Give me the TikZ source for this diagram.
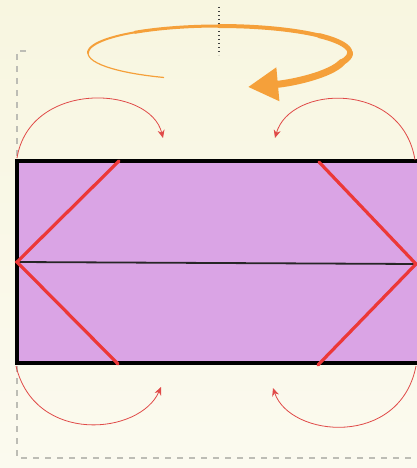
\documentclass[tikz,border=0pt]{standalone}
\usepackage{tikz}
\usetikzlibrary{arrows.meta,calc}
\definecolor{paper}{HTML}{F8F6E0}
\definecolor{paperlow}{HTML}{FBFAEF}
\definecolor{lilac}{HTML}{DAA4E5}
\definecolor{fold}{HTML}{EC3838}
\definecolor{flipred}{HTML}{E04A48}
\definecolor{turn}{HTML}{F5A03A}
\definecolor{guide}{HTML}{BDBDB5}
\tikzset{
  sheet/.style={fill=lilac,draw=black,line width=3.6pt},
  crease/.style={draw=black!85,line width=1.8pt},
  foldline/.style={draw=fold,line width=3.2pt,line cap=round},
  flip/.style={draw=flipred,line width=.8pt,-{Stealth[length=8pt,width=7pt]}},
  guideline/.style={draw=guide,line width=1.2pt,dash pattern=on 6pt off 6pt},
  turnline/.style={draw=turn,line cap=round},
  axisline/.style={draw=black!75,line width=1.3pt,dash pattern=on 1.3pt off 2.7pt}
}
\begin{document}
\begin{tikzpicture}[x=1pt,y=-1pt]
  \useasboundingbox (0,0) rectangle (417,468);
  \clip (0,0) rectangle (417,468);
  \shade[top color=paper,bottom color=paperlow] (0,0) rectangle (417,468);
  % corners of the sheet and the fold points
  \coordinate (tl) at (17,161); \coordinate (br) at (421,363);
  \coordinate (ml) at (17,262); \coordinate (mr) at (416,264);
  \coordinate (tla) at (119,161); \coordinate (bla) at (118,364);
  \coordinate (tra) at (319,162); \coordinate (bra) at (318,365);
  \draw[guideline] (26,51)--(17,51)--(17,458)--(417,458);
  \draw[sheet] (tl) rectangle (br);
  \draw[crease] (ml)--(mr);
  \draw[foldline] (tla)--(ml)--(bla);
  \draw[foldline] (tra)--(mr)--(bra);
  % flaps folding in
  \draw[flip] (17,158) .. controls (30,80) and (150,85) .. (163,138);
  \draw[flip] (415,160) .. controls (402,80) and (290,85) .. (275,138);
  \draw[flip] (16,366) .. controls (35,445) and (140,435) .. (161,387);
  \draw[flip] (416,366) .. controls (400,448) and (290,438) .. (273,388);
  % turn over
  \draw[axisline] (219,7)--(219,55);
  \foreach \a/\b/\w in {115/180/1.2,180/230/2,230/270/3,270/320/4,320/360/5,360/382/6}
    \draw[turnline,line width=\w pt] plot[domain=\a:\b,samples=16] ({219+131*cos(\x)},{53+27*sin(\x)});
  \draw[turnline,line width=7pt,-{Triangle[length=30pt,width=32pt]}]
    ({219+131*cos(380)},{53+27*sin(380)}) .. controls (330,75) and (292,83) .. (248,87);
\end{tikzpicture}
\end{document}
